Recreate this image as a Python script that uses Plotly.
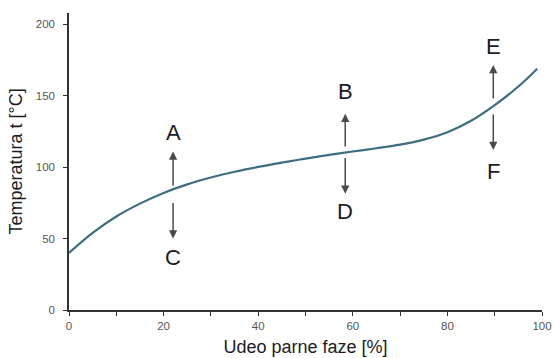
import plotly.graph_objects as go

# Vapour fraction [%] vs. temperature [°C]
vapour_pct = [0, 5, 10, 15, 20, 25, 30, 35, 40, 45, 50, 55, 60, 65, 70, 75, 80, 85, 90, 95, 99]
temperature = [40, 54, 65.5, 74.5, 82, 88, 92.8, 96.8, 100.2, 103.2, 106, 108.6, 111,
               113.3, 115.8, 119.3, 124.5, 132.5, 143.5, 156.5, 169]

# Point labels with their arrows (arrow runs from tail to head along y)
point_labels = ["A", "C", "B", "D", "E", "F"]
point_x = [22, 22, 58.4, 58.4, 89.7, 89.7]
arrow_tail = [86, 76, 113.5, 107.5, 147, 138]
arrow_head = [111, 50, 137.5, 81.5, 171.5, 112]
label_y = [124, 37, 153, 69, 184.5, 97]

x_ticks = [0, 10, 20, 30, 40, 50, 60, 70, 80, 90, 100]
x_tick_text = ["0", "", "20", "", "40", "", "60", "", "80", "", "100"]
y_ticks = [0, 50, 100, 150, 200]

FONT = "Liberation Sans, Arial, sans-serif"

fig = go.Figure()
fig.add_trace(go.Scatter(
    x=vapour_pct, y=temperature, mode="lines",
    line=dict(color="#3d6d80", width=2.2, shape="spline", smoothing=1.0),
    hoverinfo="skip", showlegend=False,
))

annotations = []
for lab, x, t0, t1, ly in zip(point_labels, point_x, arrow_tail, arrow_head, label_y):
    annotations.append(dict(
        x=x, y=t1, ax=x, ay=t0, xref="x", yref="y", axref="x", ayref="y",
        text="", showarrow=True, arrowhead=2, arrowsize=1.1, arrowwidth=1.5,
        arrowcolor="#4a4a4a", standoff=0, startstandoff=0,
    ))
    annotations.append(dict(
        x=x, y=ly, xref="x", yref="y", text=lab, showarrow=False,
        font=dict(family=FONT, size=22, color="#1c1c24"),
    ))

axis_common = dict(
    showgrid=False, zeroline=False, showline=True, linecolor="#333333", linewidth=1.5,
    ticks="outside", ticklen=4, tickwidth=1.2, tickcolor="#333333", automargin=False,
    tickfont=dict(family=FONT, size=11.5, color="#555555"),
)

fig.update_layout(
    width=554, height=358,
    margin=dict(l=69, r=12, t=13, b=48),
    paper_bgcolor="white", plot_bgcolor="white",
    xaxis=dict(range=[0, 100], tickvals=x_ticks, ticktext=x_tick_text,
               title=dict(text="Udeo parne faze [%]", standoff=10,
                          font=dict(family=FONT, size=18, color="#1c1c24")),
               **axis_common),
    yaxis=dict(range=[0, 208], tickvals=y_ticks, ticklabelstandoff=6,
               title=dict(text="Temperatura t [°C]", standoff=8,
                          font=dict(family=FONT, size=18, color="#1c1c24")),
               **axis_common),
    annotations=annotations,
)

fig.write_html("out.html")
